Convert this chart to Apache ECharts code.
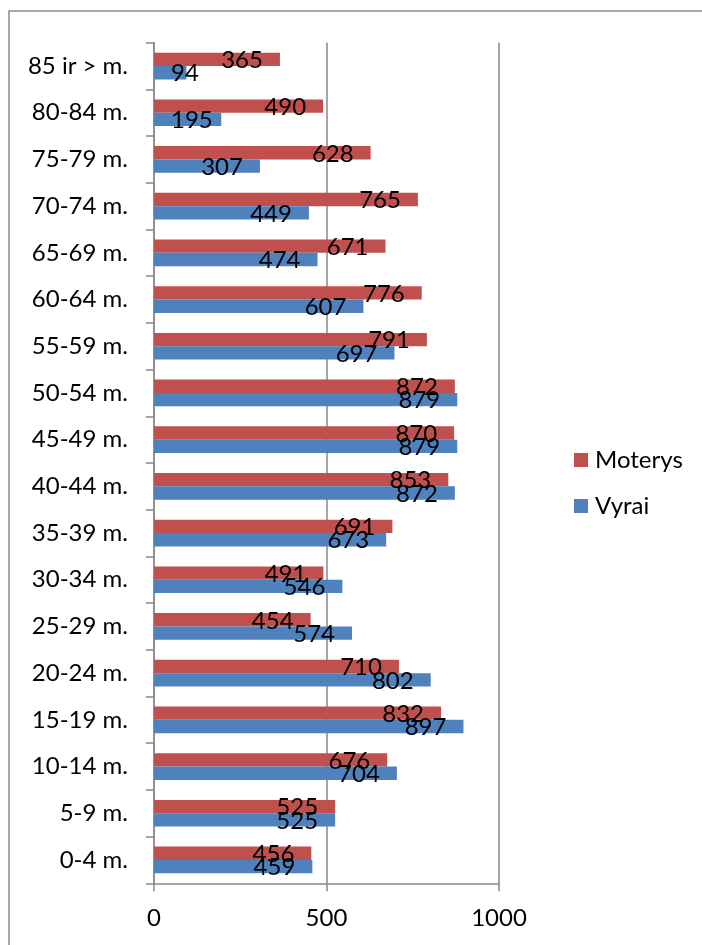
<!DOCTYPE html>
<html>
<head>
<meta charset="utf-8">
<script src="https://cdn.jsdelivr.net/npm/echarts@6/dist/echarts.min.js"></script>
<style>
  html, body { margin: 0; padding: 0; background: #fff; }
  #chart { width: 702px; height: 945px; }
</style>
</head>
<body>
<div id="chart"></div>
<script>
// Age groups, listed bottom to top
const ageGroups = [
  '0-4 m.', '5-9 m.', '10-14 m.', '15-19 m.', '20-24 m.', '25-29 m.',
  '30-34 m.', '35-39 m.', '40-44 m.', '45-49 m.', '50-54 m.', '55-59 m.',
  '60-64 m.', '65-69 m.', '70-74 m.', '75-79 m.', '80-84 m.', '85 ir > m.'
];
const moterys = [456, 525, 676, 832, 710, 454, 491, 691, 853, 870, 872, 791, 776, 671, 765, 628, 490, 365];
const vyrai   = [459, 525, 704, 897, 802, 574, 546, 673, 872, 879, 879, 697, 607, 474, 449, 307, 195, 94];
const xTicks = [0, 500, 1000];

const FONT = 'Lato';
const FS = 24;
const chart = echarts.init(document.getElementById('chart'));

const gridLeft = 154, gridRight = 203;
const plotWidth = 702 - gridLeft - gridRight;
const xMax = xTicks[xTicks.length - 1];
const labelPad = 17;

// Value labels sit inside the bar end; bars too short to hold them keep the label at the start
function toItems(values) {
  return values.map(v => {
    const barPx = v / xMax * plotWidth;
    const textPx = String(v).length * 13;
    const fits = barPx >= textPx + 2 * labelPad;
    return { value: v, label: { position: fits ? 'insideRight' : 'insideLeft' } };
  });
}

const labelStyle = {
  show: true,
  distance: labelPad,
  color: '#000',
  fontFamily: FONT,
  fontSize: FS,
  offset: [0, 1]
};

chart.setOption({
  animation: false,
  backgroundColor: '#fff',
  graphic: [{
    type: 'rect',
    shape: { x: 9, y: 11, width: 800, height: 1000 },
    style: { fill: 'none', stroke: '#8c8c8c', lineWidth: 1.5 },
    silent: true
  }],
  legend: {
    data: ['Moterys', 'Vyrai'],
    orient: 'vertical',
    left: 569,
    top: 443,
    itemWidth: 14,
    itemHeight: 14,
    itemGap: 22,
    icon: 'rect',
    textStyle: { fontFamily: FONT, fontSize: FS, color: '#000', padding: [0, 0, 0, 2] }
  },
  grid: { left: gridLeft, right: gridRight, top: 42.7, bottom: 61.7, containLabel: false },
  xAxis: {
    type: 'value',
    min: 0, max: xMax, interval: 500,
    axisLine: { show: true, lineStyle: { color: '#888', width: 1.5 } },
    axisTick: { show: true, length: 8, lineStyle: { color: '#888', width: 1.5 } },
    splitLine: { show: true, lineStyle: { color: '#888', width: 1.5 } },
    axisLabel: { color: '#000', fontFamily: FONT, fontSize: FS, margin: 23, formatter: v => String(v) }
  },
  yAxis: {
    type: 'category',
    data: ageGroups,
    axisLine: { show: true, lineStyle: { color: '#888', width: 1.5 } },
    axisTick: { show: true, length: 8, lineStyle: { color: '#888', width: 1.5 } },
    axisLabel: { color: '#000', fontFamily: FONT, fontSize: FS, margin: 26 }
  },
  series: [
    {
      name: 'Moterys', type: 'bar',
      data: toItems(moterys),
      itemStyle: { color: '#C0504D' },
      barGap: '0%', barCategoryGap: '42.9%',
      label: labelStyle
    },
    {
      name: 'Vyrai', type: 'bar',
      data: toItems(vyrai),
      itemStyle: { color: '#4F81BD' },
      barGap: '0%', barCategoryGap: '42.9%',
      label: labelStyle
    }
  ]
});
</script>
</body>
</html>
